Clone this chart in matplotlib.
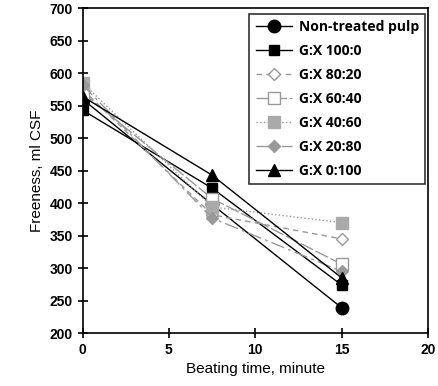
import matplotlib
matplotlib.use("Agg")
import matplotlib.pyplot as plt

time = [0, 7.5, 15]
labels = ["Non-treated pulp", "G:X 100:0", "G:X 80:20", "G:X 60:40", "G:X 40:60", "G:X 20:80", "G:X 0:100"]
non_treated = [560, 398, 239]
gx_100_0 = [543, 423, 274]
gx_80_20 = [575, 382, 345]
gx_60_40 = [570, 407, 306]
gx_40_60 = [585, 394, 370]
gx_20_80 = [582, 377, 295]
gx_0_100 = [564, 443, 285]
series = [non_treated, gx_100_0, gx_80_20, gx_60_40, gx_40_60, gx_20_80, gx_0_100]

styles = [
    dict(color="black", ls="-", marker="o", mfc="black", mec="black", ms=9),
    dict(color="black", ls="-", marker="s", mfc="black", mec="black", ms=7),
    dict(color="#999999", ls=(0, (4, 3)), marker="D", mfc="white", mec="#999999", ms=6),
    dict(color="#999999", ls=(0, (10, 2)), marker="s", mfc="white", mec="#999999", ms=9),
    dict(color="#999999", ls=":", marker="s", mfc="#aaaaaa", mec="#aaaaaa", ms=8),
    dict(color="#999999", ls=(0, (10, 3, 2, 3)), marker="D", mfc="#999999", mec="#999999", ms=6),
    dict(color="black", ls="-", marker="^", mfc="black", mec="black", ms=8),
]

fig = plt.figure(figsize=(4.39, 3.86), dpi=100)
ax = fig.add_axes([0.188, 0.137, 0.787, 0.842])
for lab, vals, st in zip(labels, series, styles):
    ax.plot(time, vals, label=lab, lw=1.0, **st)

ax.set_xlim(0, 20)
ax.set_ylim(200, 700)
ax.set_xticks([0, 5, 10, 15, 20])
ax.set_yticks(range(200, 701, 50))
ax.tick_params(direction="inout", length=7, width=1.2, labelsize=10)
for t in ax.get_xticklabels() + ax.get_yticklabels():
    t.set_fontweight("bold")
    t.set_family("Liberation Sans")
for s in ax.spines.values():
    s.set_linewidth(1.2)
ax.set_xlabel("Beating time, minute", family="Liberation Sans", fontsize=11)
ax.set_ylabel("Freeness, ml CSF", family="Liberation Sans", fontsize=11)

leg = ax.legend(loc="upper right", bbox_to_anchor=(0.992, 0.982), frameon=True, fancybox=False,
                edgecolor="black", prop=dict(family="Open Sans", weight="bold", size=10),
                handlelength=2.6, labelspacing=0.72, borderpad=0.45, handletextpad=0.5,
                borderaxespad=0)
leg.get_frame().set_linewidth(1.2)

fig.savefig("out.png", dpi=100)
